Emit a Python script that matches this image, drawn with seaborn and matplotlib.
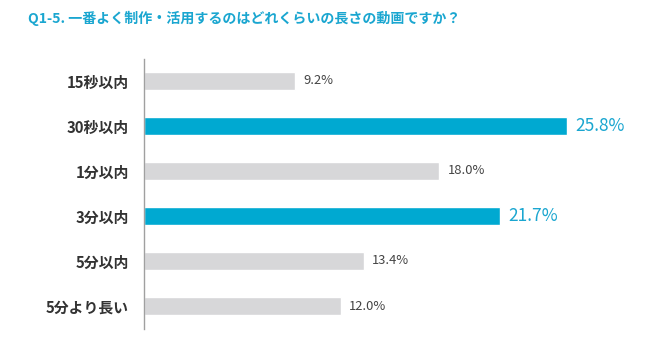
import matplotlib
matplotlib.use("Agg")
import matplotlib.pyplot as plt
import seaborn as sns
import pandas as pd

categories = ["15秒以内", "30秒以内", "1分以内", "3分以内", "5分以内", "5分より長い"]
values = [9.2, 25.8, 18.0, 21.7, 13.4, 12.0]
highlight = [False, True, False, True, False, False]
title = "Q1-5. 一番よく制作・活用するのはどれくらいの長さの動画ですか？"

BLUE = "#00A9D1"
GRAY = "#D7D7D9"

sns.set_theme(style="white")
plt.rcParams["font.family"] = ["Noto Sans CJK JP", "DejaVu Sans"]

df = pd.DataFrame({"cat": categories, "val": values,
                   "grp": ["hi" if h else "lo" for h in highlight]})

fig = plt.figure(figsize=(6.5, 3.45), dpi=100)
ax = fig.add_axes([144 / 650, 1 - 328.5 / 345, 1 - 144 / 650, 270 / 345])

sns.barplot(data=df, x="val", y="cat", hue="grp", orient="h",
            palette={"hi": BLUE, "lo": GRAY}, width=0.4, dodge=False,
            legend=False, ax=ax, saturation=1)

ax.set_xlim(0, (650 - 144) / 16.4)
ax.set_ylim(5.5, -0.5)
ax.set_xlabel("")
ax.set_ylabel("")
ax.set_xticks([])
for s in ["top", "right", "bottom"]:
    ax.spines[s].set_visible(False)
ax.spines["left"].set_color("#A0A0A0")
ax.spines["left"].set_linewidth(1.0)
ax.tick_params(axis="y", length=0, pad=11)
for lbl in ax.get_yticklabels():
    lbl.set_fontsize(10.7)
    lbl.set_fontweight("bold")
    lbl.set_color("#333333")

for i, (v, h) in enumerate(zip(values, highlight)):
    if h:
        ax.text(v + 0.5, i, f"{v:.1f}%", va="center", ha="left",
                fontsize=12.5, color="#1AA6D0")
    else:
        ax.text(v + 0.5, i, f"{v:.1f}%", va="center", ha="left",
                fontsize=9.3, color="#444444")

fig.text(28 / 650, 1 - 18 / 345, title, ha="left", va="center",
         fontsize=10.1, fontweight="bold", color="#1AA6D0")

fig.savefig("out.png", dpi=100)
